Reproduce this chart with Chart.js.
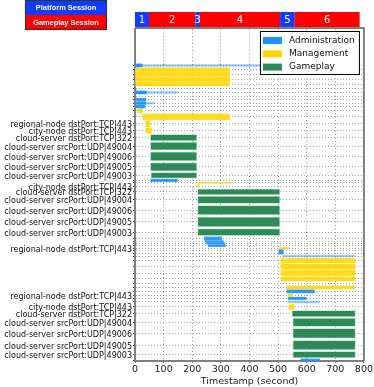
<!DOCTYPE html>
<html><head><meta charset="utf-8">
<script src="https://cdn.jsdelivr.net/npm/chart.js@4/dist/chart.umd.min.js"></script>
<style>html,body{margin:0;padding:0;background:#fff;}#wrap{width:374px;height:387px;position:relative;}</style>
</head><body><div id="wrap"><canvas id="c" width="374" height="387"></canvas></div>
<script>
// ---------- DATA ----------
const rowLabels = [
  '', '', '', '', '', '', '', '', '', '', '', '', '',
  'regional-node dstPort:TCP|443',
  'city-node dstPort:TCP|443',
  'cloud-server dstPort:TCP|322',
  'cloud-server srcPort:UDP|49004',
  'cloud-server srcPort:UDP|49006',
  'cloud-server srcPort:UDP|49005',
  'cloud-server srcPort:UDP|49003',
  '', '',
  'city-node dstPort:TCP|443',
  'cloud-server dstPort:TCP|322',
  'cloud-server srcPort:UDP|49004',
  'cloud-server srcPort:UDP|49006',
  'cloud-server srcPort:UDP|49005',
  'cloud-server srcPort:UDP|49003',
  '', '', '', '',
  'regional-node dstPort:TCP|443',
  '', '', '', '', '', '', '', '', '', '',
  'regional-node dstPort:TCP|443',
  '', '',
  'city-node dstPort:TCP|443',
  'cloud-server dstPort:TCP|322',
  'cloud-server srcPort:UDP|49004',
  'cloud-server srcPort:UDP|49006',
  'cloud-server srcPort:UDP|49005',
  'cloud-server srcPort:UDP|49003',
  ''
];
// relative height of each lane (row band) of the category axis
const laneWeights = [
  4, 4.5, 5, 5, 4.5, 4, 4, 3.5, 3.5, 3.5, 3.5, 5, 7,
  7, 6.5, 7.5, 9.5, 11, 10, 7,
  3, 2, 4.5, 7, 9, 11.5, 12, 8.5,
  4, 2, 2, 2.5, 2.5, 2.5, 2.5, 3.5,
  5.5, 6.5, 6.5, 5, 4, 4, 4, 3.5, 3, 4,
  6, 7.5, 10, 12, 11.5, 7.5, 4
];
// [row, start (s), end (s)]
const adminBars = [
  [0, 0, 25], [6, 3, 40], [8, 5, 38], [9, 5, 38], [10, 3, 35], [20, 55, 148],
  [28, 243, 302], [29, 245, 308], [30, 250, 313], [31, 256, 316],
  [33, 503, 518], [34, 503, 518], [42, 531, 627], [44, 535, 598], [52, 580, 645]
];
const adminTraceBars = [
  [0, 0, 780], [6, 3, 148], [9, 5, 70], [35, 517, 767], [45, 535, 644]
];
const mgmtBars = [
  [1, 0, 332], [2, 0, 332], [3, 0, 332], [4, 0, 332], [11, 7, 28], [12, 27, 332],
  [13, 37, 54], [14, 37, 59], [22, 218, 225], [32, 503, 537],
  [36, 509, 770], [37, 509, 770], [38, 509, 770], [39, 509, 770], [41, 528, 770],
  [43, 535, 552], [46, 537, 557]
];
const mgmtTraceBars = [
  [21, 220, 337]
];
const gameBars = [
  [15, 54, 216], [16, 54, 216], [17, 54, 216], [18, 54, 216], [19, 56, 216],
  [23, 219, 506], [24, 219, 506], [25, 219, 506], [26, 219, 506], [27, 219, 506],
  [47, 549, 770], [48, 552, 770], [49, 552, 770], [50, 552, 770], [51, 552, 770]
];
const xTickValues = [0, 100, 200, 300, 400, 500, 600, 700, 800];
const sessionNames = ['1', '2', '3', '4', '5', '6'];
const sessionStart = [0, 49, 211, 227, 507, 558];
const sessionEnd = [49, 211, 227, 507, 558, 785];
const sessionKind = ['Platform Session', 'Gameplay Session', 'Platform Session', 'Gameplay Session', 'Platform Session', 'Gameplay Session'];
const legendNames = ['Administration', 'Management', 'Gameplay'];

// ---------- LAYOUT / STYLE ----------
const FONT = "'DejaVu Sans', sans-serif";
const COLORS = { admin: '#1E90FF', mgmt: '#FFD700', game: '#2E8B57' };
const SESSION_COLORS = { 'Platform Session': '#0f3cff', 'Gameplay Session': '#ff0000' };

const laneCenters = [];
(function () { let acc = 0; laneWeights.forEach(w => { laneCenters.push(acc + w / 2); acc += w; }); })();
const Y_MIN = -34.4, Y_MAX = 297.6;

const datasets = [];
function addBars(list, kind, style) {
  list.forEach(([row, s, e]) => {
    datasets.push(Object.assign({
      label: kind,
      data: [{ x: [s, e], y: laneCenters[row] }],
      grouped: false,
      borderSkipped: false,
      _lane: laneWeights[row]
    }, style));
  });
}
addBars(adminBars, 'Administration', { backgroundColor: 'rgba(30,144,255,0.92)', borderWidth: 0, _f: 0.75 });
addBars(mgmtBars, 'Management', { backgroundColor: 'rgba(255,215,0,0.88)', borderColor: 'rgba(255,232,110,0.9)', borderWidth: 0.6, _f: 0.92 });
addBars(gameBars, 'Gameplay', { backgroundColor: '#2E8B57', borderColor: 'rgba(170,215,185,0.9)', borderWidth: 0.8, _f: 0.8 });
addBars(adminTraceBars, 'Administration', { backgroundColor: 'rgba(30,144,255,0.45)', borderWidth: 0, _f: 0.45 });
addBars(mgmtTraceBars, 'Management', { backgroundColor: 'rgba(255,215,0,0.75)', borderWidth: 0, _f: 0.5 });
datasets.forEach(d => { d.barThickness = d._lane * d._f; });

const sessionPlugin = {
  id: 'sessions',
  afterDraw(chart) {
    const ctx = chart.ctx, x = chart.scales.x, top = chart.chartArea.top;
    ctx.save();
    sessionNames.forEach((n, i) => {
      const p0 = x.getPixelForValue(sessionStart[i]), p1 = x.getPixelForValue(sessionEnd[i]);
      ctx.fillStyle = SESSION_COLORS[sessionKind[i]];
      ctx.fillRect(p0, top - 17, p1 - p0, 16);
    });
    ctx.fillStyle = '#fff';
    ctx.font = '10px ' + FONT;
    ctx.textAlign = 'center'; ctx.textBaseline = 'middle';
    sessionNames.forEach((n, i) => {
      const p0 = x.getPixelForValue(sessionStart[i]), p1 = x.getPixelForValue(sessionEnd[i]);
      ctx.fillText(n, (p0 + p1) / 2, top - 8.5);
    });
    const kinds = ['Platform Session', 'Gameplay Session'];
    const bx = 25.5, by = 0.5, bw = 81, bh = 14.5;
    kinds.forEach((k, i) => {
      ctx.fillStyle = SESSION_COLORS[k];
      ctx.fillRect(bx, by + i * bh, bw, bh);
    });
    ctx.strokeStyle = '#333'; ctx.lineWidth = 1.2;
    ctx.strokeRect(bx, by, bw, bh * 2);
    ctx.fillStyle = '#fff';
    ctx.font = "bold 7.4px 'Liberation Sans', sans-serif";
    kinds.forEach((k, i) => ctx.fillText(k, bx + bw / 2, by + i * bh + bh / 2 + 0.5));
    const a = chart.chartArea;
    ctx.strokeStyle = '#808080'; ctx.lineWidth = 2;
    ctx.beginPath();
    ctx.moveTo(a.left, a.top - 1); ctx.lineTo(a.right, a.top - 1); ctx.lineTo(a.right, a.bottom);
    ctx.stroke();
    ctx.restore();
  }
};

const legendPlugin = {
  id: 'boxLegend',
  afterDatasetsDraw(chart) {
    const ctx = chart.ctx, a = chart.chartArea;
    const w = 100, h = 44, x0 = a.right - 4 - w, y0 = a.top + 2;
    ctx.save();
    ctx.fillStyle = '#fff';
    ctx.fillRect(x0, y0, w, h);
    ctx.strokeStyle = '#000'; ctx.lineWidth = 1;
    ctx.strokeRect(x0 + 0.5, y0 + 0.5, w - 1, h - 1);
    const cols = [COLORS.admin, COLORS.mgmt, COLORS.game];
    ctx.font = '9px ' + FONT; ctx.textBaseline = 'middle'; ctx.textAlign = 'left';
    legendNames.forEach((n, i) => {
      const cy = y0 + 9.5 + i * 13.3;
      ctx.fillStyle = cols[i];
      ctx.fillRect(x0 + 3, cy - 3.5, 19, 7);
      ctx.fillStyle = '#111';
      ctx.fillText(n, x0 + 29, cy);
    });
    ctx.restore();
  }
};

const chart = new Chart(document.getElementById('c'), {
  type: 'bar',
  data: { datasets },
  options: {
    indexAxis: 'y',
    responsive: false,
    animation: false,
    events: [],
    layout: { padding: { top: 29, right: 8, left: 0, bottom: 0 } },
    plugins: { legend: { display: false }, tooltip: { enabled: false } },
    scales: {
      x: {
        type: 'linear', min: 0, max: 800,
        afterBuildTicks: s => { s.ticks = xTickValues.map(v => ({ value: v })); },
        afterFit: s => { s.height = 26; },
        ticks: { font: { family: FONT, size: 9.5 }, color: '#222', padding: 1, maxRotation: 0 },
        grid: { color: 'rgba(100,100,100,0.7)', lineWidth: 1, tickLength: 2, tickColor: '#777', tickBorderDash: [] },
        border: { display: true, color: '#808080', width: 2, dash: [1, 2.5] },
        title: { display: true, text: 'Timestamp (second)', font: { family: FONT, size: 9.5 }, color: '#222', padding: 0 }
      },
      y: {
        type: 'linear', reverse: true, min: Y_MIN, max: Y_MAX, offset: false,
        afterBuildTicks: s => { s.ticks = laneCenters.map(v => ({ value: v })); },
        afterFit: s => { s.width = 135; },
        ticks: {
          autoSkip: false, font: { family: FONT, size: 8 }, color: '#111', padding: 1, labelOffset: 1.5,
          callback: (v, i) => rowLabels[i]
        },
        grid: { offset: false, color: 'rgba(110,110,110,0.6)', lineWidth: 1, tickLength: 2, tickColor: '#333', tickBorderDash: [] },
        border: { display: true, color: '#808080', width: 2, dash: [1, 2] }
      }
    }
  },
  plugins: [sessionPlugin, legendPlugin]
});
(function () {
  const y = chart.scales.y;
  const px = Math.abs(y.getPixelForValue(1) - y.getPixelForValue(0));
  chart.data.datasets.forEach(d => { d.barThickness = d._lane * d._f * px; });
  chart.update('none');
})();
</script></body></html>
